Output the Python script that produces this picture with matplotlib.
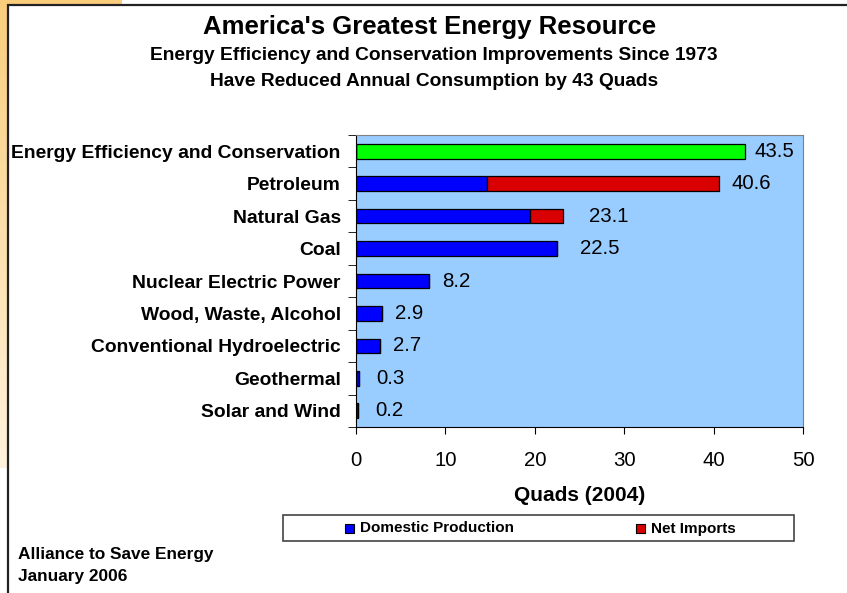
import numpy as np
import matplotlib
matplotlib.use("Agg")
import matplotlib.pyplot as plt
from matplotlib.patches import Rectangle

plt.rcParams['font.family'] = ['Liberation Sans', 'DejaVu Sans']

categories = ["Energy Efficiency and Conservation", "Petroleum", "Natural Gas", "Coal",
              "Nuclear Electric Power", "Wood, Waste, Alcohol", "Conventional Hydroelectric",
              "Geothermal", "Solar and Wind"]
domestic = [0, 14.6, 19.5, 22.5, 8.2, 2.9, 2.7, 0.3, 0.2]
imports = [0, 26.0, 3.6, 0, 0, 0, 0, 0, 0]
efficiency = [43.5, 0, 0, 0, 0, 0, 0, 0, 0]
totals = ["43.5", "40.6", "23.1", "22.5", "8.2", "2.9", "2.7", "0.3", "0.2"]
label_gap = [10, 13, 26, 23, 13, 13, 13, 18, 17]  # px right of the bar end

BLUE, RED, GREEN = "#0000FF", "#D80000", "#00FF00"

W, H = 847, 593
fig = plt.figure(figsize=(W / 100, H / 100), dpi=100)
fig.patch.set_facecolor("white")

# orange slide decoration in the top-left corner (vertical fade)
bg = fig.add_axes([0, 0, 1, 1], zorder=-10)
yy, xx = np.mgrid[0:H, 0:W]
inside = (xx / 122.0) ** 2 + (yy / 468.0) ** 2 < 1
t = np.clip(yy / 468.0, 0, 1)[..., None]
top_c = np.array([250, 205, 125]) / 255
bot_c = np.array([255, 242, 220]) / 255
img = top_c * (1 - t) + bot_c * t
img = np.where(inside[..., None], img, 1.0)
bg.imshow(img, extent=[0, W, H, 0], aspect="auto")
bg.add_patch(Rectangle((8, 5), W, H, facecolor="white", edgecolor="#222222", lw=1.6))

# legend box drawn by hand, Excel style
bg.add_patch(Rectangle((283, 515), 511, 26, facecolor="white", edgecolor="#444444", lw=1.2))
for x0, col, name in [(345, BLUE, "Domestic Production"), (636, RED, "Net Imports")]:
    bg.add_patch(Rectangle((x0, 524), 9, 9, facecolor=col, edgecolor="black", lw=0.8))
    bg.text(x0 + 15, 528.5, name, fontsize=11, fontweight="bold", va="center", ha="left")

bg.text(18, 555, "Alliance to Save Energy", fontsize=12.4, fontweight="bold", va="center")
bg.text(18, 577, "January 2006", fontsize=12.4, fontweight="bold", va="center")
bg.set_xlim(0, W)
bg.set_ylim(H, 0)
bg.axis("off")

ax = fig.add_axes([356 / W, 1 - 427 / H, 447 / W, 292 / H])
ax.set_facecolor("#99CCFF")
y = np.arange(len(categories))
h = 0.45
ax.barh(y, efficiency, height=h, color=GREEN, edgecolor="black", lw=0.9)
ax.barh(y, domestic, height=h, color=BLUE, edgecolor="black", lw=0.9)
ax.barh(y, imports, left=domestic, height=h, color=RED, edgecolor="black", lw=0.9)

ends = [max(e, d + i) for e, d, i in zip(efficiency, domestic, imports)]
for yi, xe, txt, gap in zip(y, ends, totals, label_gap):
    ax.annotate(txt, (xe, yi), xytext=(gap * 0.72, 0), textcoords="offset points",
                ha="left", va="center", fontsize=14.7)

ax.set_xlim(0, 50)
ax.set_ylim(len(categories) - 0.5, -0.5)
ax.set_xticks(range(0, 51, 10))
ax.tick_params(axis="x", labelsize=14.7, length=5, direction="out", pad=12)
ax.set_yticks(y)
ax.set_yticklabels(categories, fontsize=13.9, fontweight="bold")
ax.tick_params(axis="y", length=0, pad=11)
ax.set_yticks(np.arange(-0.5, len(categories), 1), minor=True)
ax.tick_params(axis="y", which="minor", length=6, direction="out")
for s in ["top", "right"]:
    ax.spines[s].set_color("#808080")
ax.set_xlabel("Quads (2004)", fontsize=15, fontweight="bold", labelpad=12)

fig.text(430 / W, 1 - 27 / H, "America's Greatest Energy Resource", ha="center", va="center",
         fontsize=18.5, fontweight="bold")
fig.text(434 / W, 1 - 55 / H, "Energy Efficiency and Conservation Improvements Since 1973",
         ha="center", va="center", fontsize=13.8, fontweight="bold")
fig.text(434 / W, 1 - 81 / H, "Have Reduced Annual Consumption by 43 Quads",
         ha="center", va="center", fontsize=13.8, fontweight="bold")

fig.savefig("out.png", dpi=100)
